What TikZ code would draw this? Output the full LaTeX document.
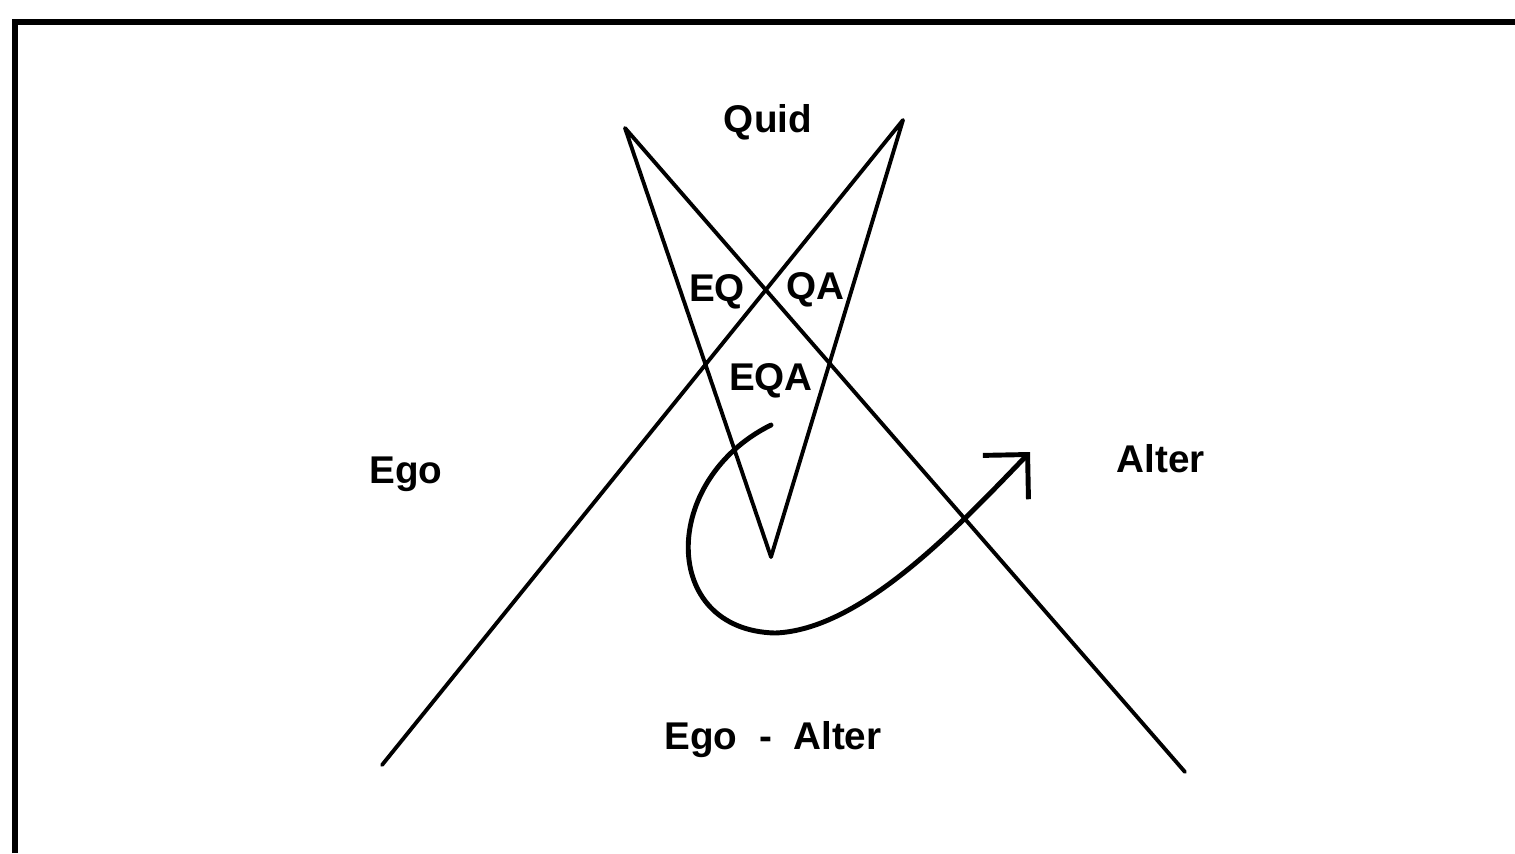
\documentclass[tikz,border=0pt]{standalone}
\usepackage{fontspec}
\setmainfont{Liberation Sans}
\usetikzlibrary{arrows.meta, positioning}

\begin{document}
\begin{tikzpicture}[
    x=1cm, y=-1cm,
    lbl/.style={font=\fontsize{11}{13}\selectfont\bfseries, inner sep=1pt},
    stroke/.style={line width=1.1pt, line join=round, line cap=round},
]
    \useasboundingbox (0,0) rectangle (15.15,8.53);

    % ============================================================
    % FRAME
    % ============================================================
    \draw[line width=1.5pt] (0.15,8.53) -- (0.15,0.22) -- (15.15,0.22);

    % ============================================================
    % CROSSING WEDGES
    % ============================================================
    \coordinate (egoFoot) at (3.82,7.65);
    \coordinate (quidR) at (9.03,1.20);
    \coordinate (vTip) at (7.71,5.57);
    \coordinate (quidL) at (6.25,1.28);
    \coordinate (alterFoot) at (11.85,7.72);
    \draw[stroke] (egoFoot) -- (quidR) -- (vTip) -- (quidL) -- (alterFoot);

    % ============================================================
    % LOOP ARROW
    % ============================================================
    \coordinate (loopStart) at (7.71,4.25);
    \coordinate (loopEnd) at (10.30,4.52);
    \draw[line width=1.4pt, line cap=round,
          -{Straight Barb[length=9pt, width=18pt]}]
        (loopStart) .. controls (6.6,4.8) and (6.6,6.3) .. (7.75,6.33)
                    .. controls (8.6,6.3) and (9.55,5.3) .. (loopEnd);

    % ============================================================
    % LABELS
    % ============================================================
    \node[lbl] (quid) at (7.68,1.22) {Quid};
    \node[lbl] (eq) at (7.17,2.92) {EQ};
    \node[lbl] (qa) at (8.15,2.90) {QA};
    \node[lbl] (eqa) at (7.71,3.81) {EQA};
    \node[lbl] (ego) at (4.06,4.74) {Ego};
    \node[lbl] (alter) at (11.61,4.59) {Alter};
    \node[lbl] (egoAlter) at (7.73,7.40) {Ego\ \ -\ \ Alter};

\end{tikzpicture}
\end{document}
